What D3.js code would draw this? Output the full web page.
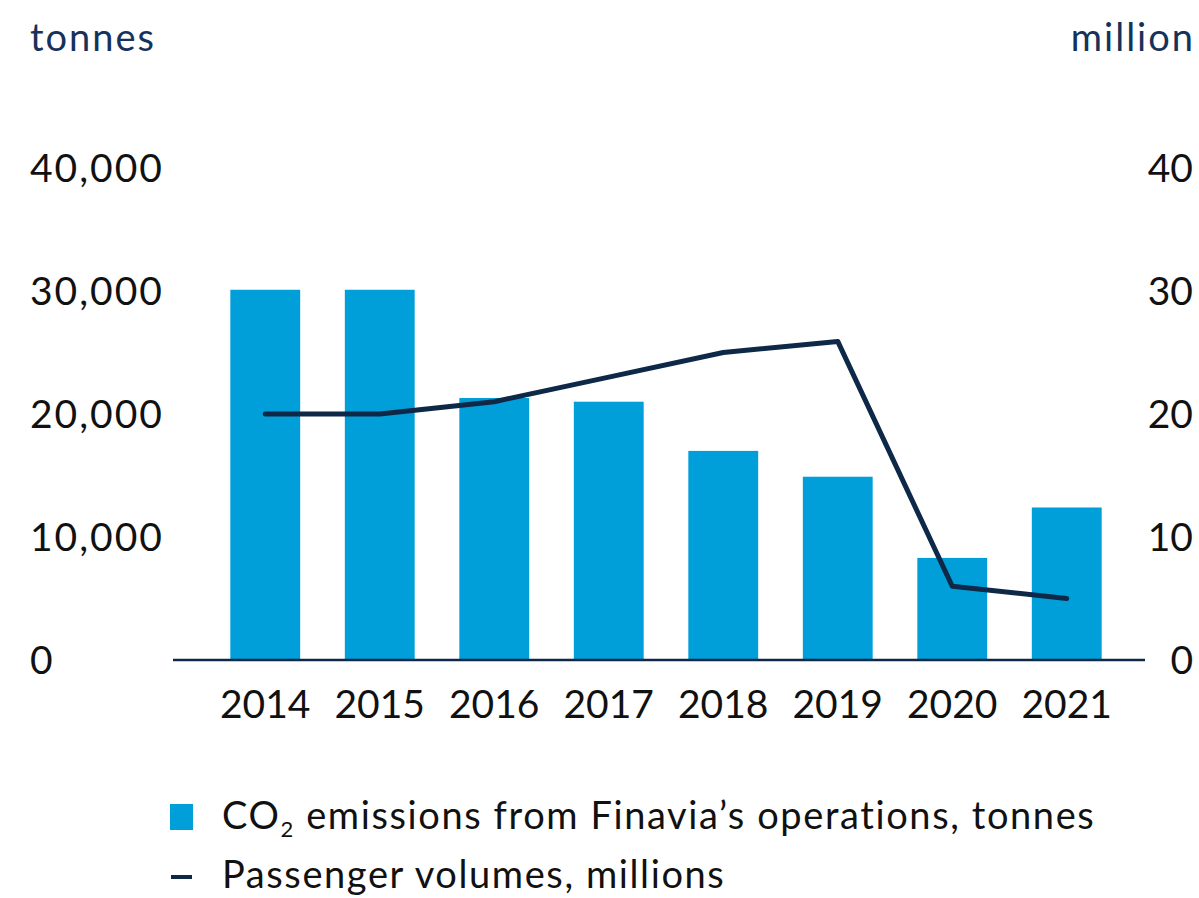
<!DOCTYPE html>
<html>
<head>
	<meta charset="UTF-8">
	<script src="https://cdn.jsdelivr.net/npm/d3@7"></script>
	<style>
		body {
			margin: 0;
			background: #fff;
		}
		text {
			font-family: Lato, "Open Sans", sans-serif;
		}
		.tick-label {
			fill: #111;
			font-size: 39px;
		}
		.left-label {
			letter-spacing: 2px;
		}
		.unit {
			fill: #15325a;
			font-size: 38px;
			letter-spacing: 2px;
		}
		.legend text {
			fill: #111;
			font-size: 38px;
			letter-spacing: 1.6px;
		}
	</style>
</head>
<body>
	<script>
		const years = ['2014', '2015', '2016', '2017', '2018', '2019', '2020', '2021'];
		const emissions = [30100, 30100, 21300, 21000, 17000, 14900, 8300, 12400];
		const passengers = [20.0, 20.0, 21.0, 23.0, 25.0, 25.9, 6.0, 5.0];
		const leftTicks = [0, 10000, 20000, 30000, 40000];
		const rightTicks = [0, 10, 20, 30, 40];

		const width = 1199;
		const height = 898;
		const barColor = '#009fd9';
		const navy = '#0e2848';

		const svg = d3.select('body')
			.append('svg')
			.attr('width', width)
			.attr('height', height);

		const x = d3.scaleBand()
			.domain(years)
			.range([208, 1124])
			.paddingInner(0.39)
			.paddingOuter(0.195);

		const yLeft = d3.scaleLinear().domain([0, 40000]).range([660, 168]);
		const yRight = d3.scaleLinear().domain([0, 40]).range([660, 168]);

		const fmt = d3.format(',');

		// unit labels
		svg.append('text').attr('class', 'unit')
			.attr('x', 30).attr('y', 51)
			.text('tonnes');
		svg.append('text').attr('class', 'unit')
			.attr('x', 1195).attr('y', 51)
			.attr('text-anchor', 'end')
			.text('million');

		// left tick labels
		svg.append('g')
			.selectAll('text')
			.data(leftTicks)
			.join('text')
				.attr('class', 'tick-label left-label')
				.attr('x', 30)
				.attr('y', d => yLeft(d))
				.attr('dy', '0.36em')
				.text(d => fmt(d));

		// right tick labels
		svg.append('g')
			.selectAll('text')
			.data(rightTicks)
			.join('text')
				.attr('class', 'tick-label')
				.attr('x', 1193)
				.attr('y', d => yRight(d))
				.attr('dy', '0.36em')
				.attr('text-anchor', 'end')
				.text(d => d);

		// bars
		svg.append('g')
			.selectAll('rect')
			.data(years)
			.join('rect')
				.attr('x', d => x(d))
				.attr('y', (d, i) => yLeft(emissions[i]))
				.attr('width', x.bandwidth())
				.attr('height', (d, i) => yLeft(0) - yLeft(emissions[i]))
				.style('fill', barColor);

		// baseline
		svg.append('line')
			.attr('x1', 173).attr('x2', 1145)
			.attr('y1', yLeft(0)).attr('y2', yLeft(0))
			.style('stroke', navy)
			.style('stroke-width', 2.5);

		// year labels
		svg.append('g')
			.selectAll('text')
			.data(years)
			.join('text')
				.attr('class', 'tick-label')
				.attr('x', d => x(d) + x.bandwidth() / 2)
				.attr('y', 718)
				.attr('text-anchor', 'middle')
				.text(d => d);

		// passenger line
		const line = d3.line()
			.x((d, i) => x(years[i]) + x.bandwidth() / 2)
			.y(d => yRight(d));

		svg.append('path')
			.datum(passengers)
			.attr('d', line)
			.style('fill', 'none')
			.style('stroke', navy)
			.style('stroke-width', 5)
			.style('stroke-linecap', 'round')
			.style('stroke-linejoin', 'round');

		// legend
		const legend = svg.append('g').attr('class', 'legend');

		legend.append('rect')
			.attr('x', 170).attr('y', 804)
			.attr('width', 23).attr('height', 26)
			.style('fill', barColor);

		const t1 = legend.append('text').attr('x', 222).attr('y', 829);
		t1.append('tspan').text('CO');
		t1.append('tspan').attr('font-size', '22px').attr('dy', 8).text('2');
		t1.append('tspan').attr('dy', -8).text(' emissions from Finavia’s operations, tonnes');

		legend.append('line')
			.attr('x1', 171).attr('x2', 192)
			.attr('y1', 877).attr('y2', 877)
			.style('stroke', navy)
			.style('stroke-width', 4);

		legend.append('text')
			.attr('x', 222).attr('y', 888)
			.text('Passenger volumes, millions');
	</script>
</body>
</html>
